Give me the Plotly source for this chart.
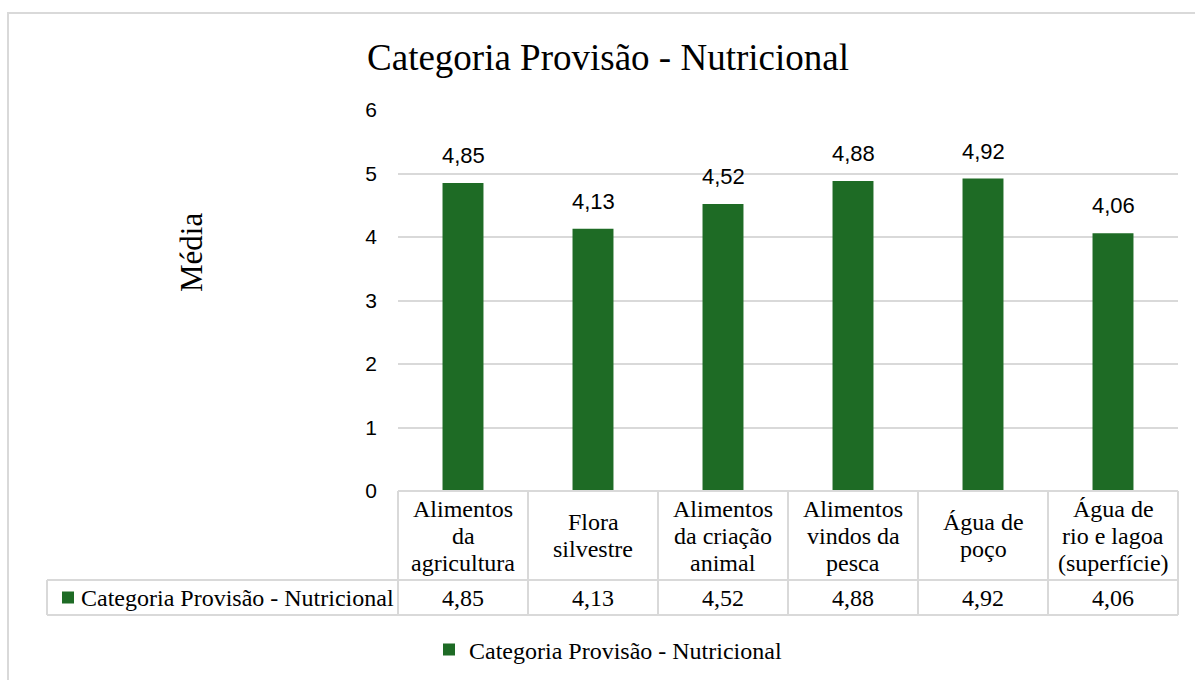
import plotly.graph_objects as go

# Data
categorias = [
    "Alimentos\nda\nagricultura",
    "Flora\nsilvestre",
    "Alimentos\nda criação\nanimal",
    "Alimentos\nvindos da\npesca",
    "Água de\npoço",
    "Água de\nrio e lagoa\n(superfície)",
]
medias = [4.85, 4.13, 4.52, 4.88, 4.92, 4.06]
nome_serie = "Categoria Provisão - Nutricional"
titulo = "Categoria Provisão - Nutricional"
titulo_y = "Média"
ticks_y = [0, 1, 2, 3, 4, 5, 6]

# Page geometry (pixels)
W, H = 1195, 680
PLOT_L, PLOT_R, PLOT_T, PLOT_B = 398, 1178, 110, 491
HEAD_B, ROW_B, LEG_L = 580, 615, 47

SERIF = "Liberation Serif, Times New Roman, serif"
SANS = "Liberation Sans, Arial, sans-serif"
VERDE = "#1e6b25"
GRADE = "#d9d9d9"


def px(x):
    return x / W


def py(y):
    return 1 - y / H


def fmt(v):
    return f"{v:.2f}".replace(".", ",")


rotulos = [c.replace("\n", " ") for c in categorias]
n = len(categorias)
x0p, x1p = px(PLOT_L), px(PLOT_R)


def cat_paper(pos):
    # category position -> paper x, for the axis range [-0.5, n-0.5]
    return x0p + (pos + 0.5) / n * (x1p - x0p)


fig = go.Figure()
fig.add_trace(go.Bar(
    x=rotulos, y=medias, name=nome_serie,
    marker=dict(color=VERDE, line=dict(width=0)),
    showlegend=True,
))

shapes = []
annotations = []

# data labels above the bars
for i, v in enumerate(medias):
    annotations.append(dict(
        x=i, y=v, xref="x", yref="y", text=fmt(v), showarrow=False,
        yanchor="bottom", yshift=13,
        font=dict(family=SANS, size=22, color="#000000"),
    ))

# data table: grid lines
line = dict(color=GRADE, width=2)
shapes.append(dict(type="line", xref="paper", yref="paper",
                   x0=x0p, x1=x1p, y0=py(PLOT_B), y1=py(PLOT_B), line=line))
for yy in (HEAD_B, ROW_B):
    shapes.append(dict(type="line", xref="paper", yref="paper",
                       x0=px(LEG_L), x1=x1p, y0=py(yy), y1=py(yy), line=line))
for k in range(n + 1):
    xx = cat_paper(k - 0.5)
    shapes.append(dict(type="line", xref="paper", yref="paper",
                       x0=xx, x1=xx, y0=py(PLOT_B), y1=py(ROW_B), line=line))
shapes.append(dict(type="line", xref="paper", yref="paper",
                   x0=px(LEG_L), x1=px(LEG_L), y0=py(HEAD_B), y1=py(ROW_B), line=line))

# data table: header cells (category names) and values
head_mid = (PLOT_B + HEAD_B) / 2
row_mid = (HEAD_B + ROW_B) / 2
LINE_H = 27
for i, cat in enumerate(categorias):
    linhas = cat.split("\n")
    m = len(linhas)
    for j, t in enumerate(linhas):
        yc = head_mid + (j - (m - 1) / 2) * LINE_H
        annotations.append(dict(
            x=i, y=py(yc), xref="x", yref="paper", text=t, showarrow=False,
            yanchor="middle", font=dict(family=SERIF, size=24, color="#000000"),
        ))
    annotations.append(dict(
        x=i, y=py(row_mid), xref="x", yref="paper", text=fmt(medias[i]),
        showarrow=False, yanchor="middle",
        font=dict(family=SERIF, size=24, color="#000000"),
    ))

# data table: series key cell
shapes.append(dict(type="rect", xref="paper", yref="paper",
                   x0=px(62), x1=px(74), y0=py(row_mid - 6), y1=py(row_mid + 6),
                   fillcolor=VERDE, line=dict(width=0)))
annotations.append(dict(
    x=px(79), y=py(row_mid), xref="paper", yref="paper", text=nome_serie,
    showarrow=False, xanchor="left", yanchor="middle",
    font=dict(family=SERIF, size=24, color="#000000"),
))

# y-axis title
annotations.append(dict(
    x=px(191), y=py(253), xref="paper", yref="paper", text=titulo_y,
    showarrow=False, textangle=-90, xanchor="center", yanchor="middle",
    font=dict(family=SERIF, size=31, color="#000000"),
))

# chart area border
shapes.append(dict(type="rect", xref="paper", yref="paper",
                   x0=px(8), x1=px(1215), y0=py(13), y1=py(700),
                   line=dict(color=GRADE, width=2), fillcolor="rgba(0,0,0,0)"))

fig.update_layout(
    width=W, height=H, autosize=False,
    margin=dict(l=0, r=0, t=0, b=0, autoexpand=False),
    paper_bgcolor="white", plot_bgcolor="white",
    title=dict(text=titulo, x=px(608), xanchor="center", y=py(57), yanchor="middle",
               font=dict(family=SERIF, size=37, color="#000000")),
    bargap=0.685,
    xaxis=dict(domain=[x0p, x1p], range=[-0.5, n - 0.5], showticklabels=False,
               showgrid=False, zeroline=False, showline=False, ticks="",
               automargin=False),
    yaxis=dict(domain=[py(PLOT_B), py(PLOT_T)], range=[0, 6], tickvals=ticks_y,
               showgrid=True, gridcolor=GRADE, gridwidth=1.5, zeroline=False,
               showline=False, ticks="", ticklabelstandoff=20, automargin=False,
               tickfont=dict(family=SANS, size=21, color="#000000")),
    legend=dict(orientation="h", x=px(429), xanchor="left", y=py(650), yanchor="middle",
                font=dict(family=SERIF, size=24, color="#000000"),
                bgcolor="rgba(0,0,0,0)"),
    shapes=shapes,
    annotations=annotations,
)

fig.write_html("out.html")
